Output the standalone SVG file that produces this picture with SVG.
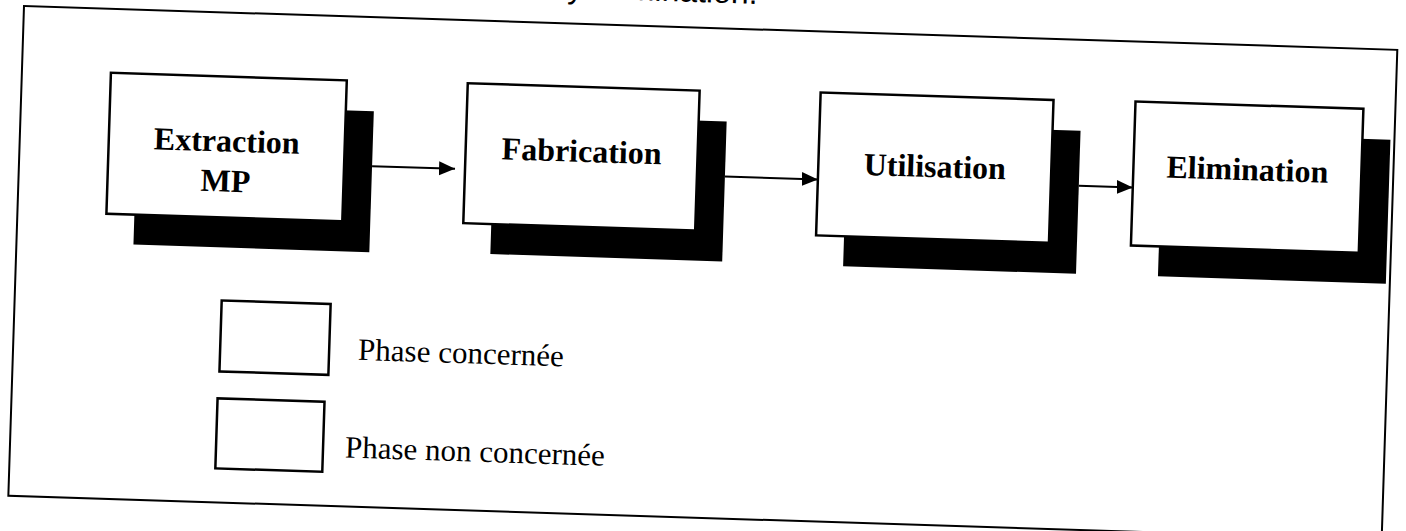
<svg xmlns="http://www.w3.org/2000/svg" width="1406" height="531" viewBox="0 0 1406 531">
  <style>
    .frame { fill: none; stroke: #000; stroke-width: 2; }
    .box { fill: #fff; stroke: #000; stroke-width: 2.5; }
    .shadow { fill: #000; }
    .node-label { font-family: "Liberation Serif", "Times New Roman", serif; font-weight: bold; font-size: 32px; fill: #000; text-anchor: middle; }
    .legend-label { font-family: "Liberation Serif", "Times New Roman", serif; font-size: 31px; fill: #000; }
    .caption { font-family: "Liberation Sans", Arial, sans-serif; font-size: 32px; fill: #000; text-anchor: end; }
    .link { fill: none; stroke: #000; stroke-width: 2; marker-end: url(#arrow); }
  </style>
  <defs>
    <marker id="arrow" markerUnits="userSpaceOnUse" markerWidth="16" markerHeight="16" viewBox="0 0 16 16" refX="16" refY="8" orient="auto">
      <path d="M0,1 L16,8 L0,15 Z" fill="#000"/>
    </marker>
  </defs>
  <rect width="1406" height="531" fill="#fff"/>

  <!-- whole page is slightly tilted -->
  <g transform="rotate(1.83 24 6)">
    <!-- caption line above the frame (mostly cut off) -->
    <text class="caption" x="757" y="-19.5">y Elimination.</text>

    <!-- outer frame -->
    <rect class="frame" x="24" y="6" width="1374" height="490"/>

    <!-- life-cycle phases -->
    <g id="extraction">
      <rect class="shadow" x="141" y="100" width="236" height="141"/>
      <rect class="box" x="113" y="70" width="236" height="141"/>
      <text class="node-label" x="231" y="145">Extraction</text>
      <text class="node-label" x="231" y="185">MP</text>
    </g>
    <g id="fabrication">
      <rect class="shadow" x="498" y="99" width="232" height="140"/>
      <rect class="box" x="470" y="69" width="232" height="140"/>
      <text class="node-label" x="586" y="144">Fabrication</text>
    </g>
    <g id="utilisation">
      <rect class="shadow" x="851" y="97" width="233" height="143"/>
      <rect class="box" x="823" y="67" width="233" height="143"/>
      <text class="node-label" x="939.5" y="148">Utilisation</text>
    </g>
    <g id="elimination">
      <rect class="shadow" x="1166" y="96" width="228" height="144"/>
      <rect class="box" x="1138" y="66" width="228" height="144"/>
      <text class="node-label" x="1252" y="141">Elimination</text>
    </g>

    <!-- connectors -->
    <g id="connectors">
      <line class="link" x1="377" y1="155" x2="460" y2="155"/>
      <line class="link" x1="730" y1="154" x2="823" y2="154"/>
      <line class="link" x1="1084" y1="152" x2="1138" y2="152"/>
    </g>

    <!-- legend -->
    <g id="legend-concerned">
      <rect class="box" x="231" y="294" width="109" height="71"/>
      <text class="legend-label" x="369" y="349">Phase concernée</text>
    </g>
    <g id="legend-not-concerned">
      <rect class="box" x="230" y="392" width="107" height="70"/>
      <text class="legend-label" x="359" y="447">Phase non concernée</text>
    </g>
  </g>
</svg>
